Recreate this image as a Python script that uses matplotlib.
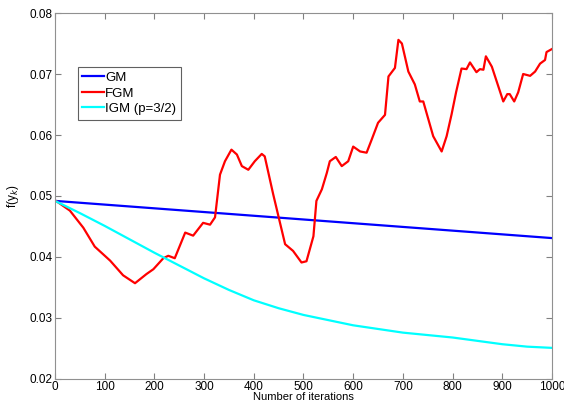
import numpy as np
import matplotlib.pyplot as plt

plt.rcParams['font.family'] = ['Liberation Sans', 'DejaVu Sans']

# GM: nearly straight decrease
gm_iter = [0, 1000]
gm_val = [0.0492, 0.0431]

# FGM
fgm_iter = [0, 2, 30, 57, 80, 111, 137, 161, 184, 198, 218, 228, 241, 262, 278, 298, 312,
            322, 332, 342, 355, 366, 376, 389, 402, 416, 422, 439, 463, 479, 496, 506,
            520, 526, 537, 547, 553, 565, 577, 590, 600, 614, 627, 637, 650, 664, 671,
            684, 691, 698, 711, 724, 734, 741, 761, 778, 788, 798, 807, 818, 828, 835,
            848, 855, 862, 867, 879, 902, 910, 915, 924, 932, 942, 956, 966, 976, 986,
            989, 1000]
fgm_val = [0.0492, 0.0492, 0.0476, 0.0448, 0.0417, 0.0394, 0.0370, 0.0357, 0.0372, 0.0380,
           0.0398, 0.0402, 0.0398, 0.0440, 0.0435, 0.0456, 0.0453, 0.0465, 0.0535, 0.0557,
           0.0576, 0.0568, 0.0549, 0.0543, 0.0557, 0.0569, 0.0565, 0.0503, 0.0421, 0.0410,
           0.0391, 0.0393, 0.0434, 0.0492, 0.0511, 0.0538, 0.0557, 0.0564, 0.0549, 0.0557,
           0.0581, 0.0573, 0.0571, 0.0592, 0.0620, 0.0633, 0.0696, 0.0710, 0.0756, 0.0750,
           0.0704, 0.0683, 0.0655, 0.0655, 0.0598, 0.0573, 0.0598, 0.0634, 0.0670, 0.0709,
           0.0708, 0.0719, 0.0703, 0.0708, 0.0707, 0.0729, 0.0712, 0.0655, 0.0667, 0.0667,
           0.0655, 0.0670, 0.0700, 0.0697, 0.0704, 0.0717, 0.0723, 0.0736, 0.0741]

# IGM (p=3/2)
igm_iter = [0, 50, 100, 150, 200, 250, 300, 350, 400, 450, 500, 600, 700, 800, 900, 950, 1000]
igm_val = [0.0492, 0.0472, 0.0451, 0.0429, 0.0407, 0.0386, 0.0365, 0.0346, 0.0329, 0.0316,
           0.0305, 0.0288, 0.0276, 0.0268, 0.0257, 0.0253, 0.0251]

fig = plt.figure(figsize=(5.64, 4.03), dpi=100)
ax = fig.add_axes([0.0975, 0.0596, 0.8812, 0.9081])

ax.plot(gm_iter, gm_val, color='#0000ff', lw=1.6, label='GM')
ax.plot(fgm_iter, fgm_val, color='#ff0000', lw=1.6, label='FGM')
ax.plot(igm_iter, igm_val, color='#00ffff', lw=1.6, label='IGM (p=3/2)')

ax.set_xlim(0, 1000)
ax.set_ylim(0.02, 0.08)
ax.set_xticks(np.arange(0, 1001, 100))
ax.set_yticks(np.arange(0.02, 0.0801, 0.01))
ax.set_yticklabels(['0.02', '0.03', '0.04', '0.05', '0.06', '0.07', '0.08'])
ax.tick_params(direction='in', top=True, right=True, labelsize=8.5, length=4,
               color='#808080', pad=2)
ax.tick_params(axis='x', pad=1.5)
for s in ax.spines.values():
    s.set_color('#909090')

ax.set_xlabel('Number of iterations', fontsize=8, labelpad=-0.5)
ax.set_ylabel('f(y$_k$)', fontsize=8.5, labelpad=6)

leg = ax.legend(loc='upper left', bbox_to_anchor=(0.046, 0.852), borderaxespad=0,
                fontsize=9.5, handlelength=1.65, handletextpad=0.05, fancybox=False,
                borderpad=0.35, labelspacing=0.25, framealpha=1)
leg.get_frame().set_edgecolor('#606060')
leg.get_frame().set_linewidth(0.8)

fig.savefig('out.png', dpi=100)
